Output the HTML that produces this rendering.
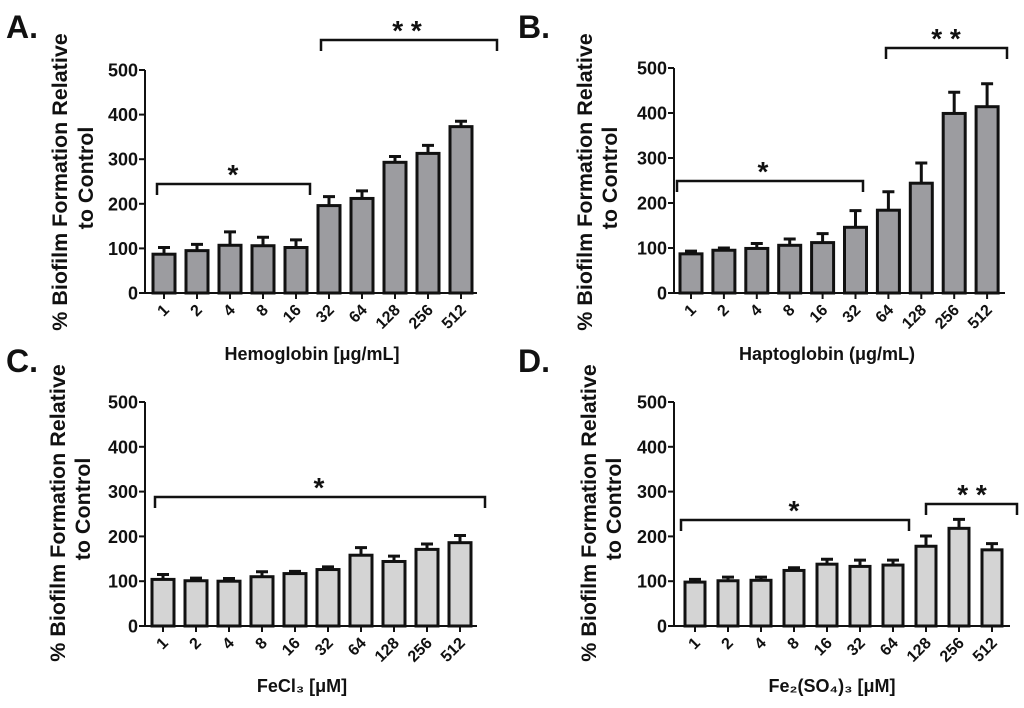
<!DOCTYPE html>
<html><head><meta charset="utf-8"><style>
body{margin:0;background:#fff;width:1024px;height:703px;overflow:hidden}
svg text{font-family:"Liberation Sans",Arial,sans-serif;font-weight:bold;fill:#111}
</style></head><body>
<svg id="fig" width="1024" height="703" viewBox="0 0 1024 703"></svg>
<script>
const categories=["1","2","4","8","16","32","64","128","256","512"];
const yTicks=[0,100,200,300,400,500];
const hemoValues=[87,95,107,106,102,196,212,293,313,373];
const hemoErrors=[15,14,30,19,17,20,17,13,18,12];
const haptoValues=[87,95,99,106,112,146,184,244,399,414];
const haptoErrors=[6,5,11,14,20,37,41,45,47,51];
const feclValues=[104,101,100,110,117,126,158,144,171,186];
const feclErrors=[11,6,6,11,5,6,17,12,12,16];
const fesoValues=[98,101,102,124,138,133,136,178,218,170];
const fesoErrors=[6,8,7,6,11,14,11,23,20,14];

const NS="http://www.w3.org/2000/svg";
const svg=document.getElementById('fig');
function mk(tag,attrs,parent){const e=document.createElementNS(NS,tag);for(const k in attrs)e.setAttribute(k,attrs[k]);(parent||svg).appendChild(e);return e;}

const panels=[
 {id:'a',letter:'A.',lx:6,ly:38,ax:145,y0:293,y500:70,x1:164,dx:33,xend:477,bw:22,fill:'#9c9ca0',vals:hemoValues,errs:hemoErrors,
  t1x:67,t2x:93,tcy:182,xt:'Hemoglobin [μg/mL]',xtx:312,xty:360,
  brackets:[{a:157,b:310,y:184,s:'*',sx:233,sy:184},{a:321,b:497,y:40,s:'* *',sx:407,sy:40}]},
 {id:'b',letter:'B.',lx:518,ly:38,ax:674,y0:293,y500:68,x1:691,dx:32.9,xend:1005,bw:22,fill:'#9c9ca0',vals:haptoValues,errs:haptoErrors,
  t1x:592,t2x:617,tcy:182,xt:'Haptoglobin (μg/mL)',xtx:827,xty:360,
  brackets:[{a:677,b:863,y:181,s:'*',sx:763,sy:181},{a:886,b:1007,y:48,s:'* *',sx:946,sy:48}]},
 {id:'c',letter:'C.',lx:6,ly:372,ax:145,y0:626,y500:402,x1:163,dx:33,xend:477,bw:22,fill:'#d4d4d4',vals:feclValues,errs:feclErrors,
  t1x:65,t2x:90,tcy:513,xt:'FeCl₃ [μM]',xtx:302,xty:692,
  brackets:[{a:155,b:485,y:497,s:'*',sx:319,sy:497}]},
 {id:'d',letter:'D.',lx:518,ly:372,ax:674,y0:626,y500:402,x1:695,dx:33,xend:1010,bw:20,fill:'#d4d4d4',vals:fesoValues,errs:fesoErrors,
  t1x:596,t2x:621,tcy:513,xt:'Fe₂(SO₄)₃ [μM]',xtx:832,xty:692,
  brackets:[{a:681,b:909,y:520,s:'*',sx:794,sy:520},{a:926,b:1017,y:504,s:'* *',sx:972,sy:504}]}
];

panels.forEach(p=>{
 const g=mk('g',{});
 
 
 const yS=v=>p.y0-(p.y0-p.y500)*v/500;
 const xS=i=>p.x1+i*p.dx;
 const L=mk('text',{x:p.lx,y:p.ly,'font-size':32},g);L.textContent=p.letter;
 
 
 const yt=mk('text',{transform:`translate(${p.t1x},${p.tcy}) rotate(-90)`,'text-anchor':'middle','font-size':21.5},g);
 yt.textContent='% Biofilm Formation Relative';
 
 
 const yt2=mk('text',{transform:`translate(${p.t2x},${p.tcy-4}) rotate(-90)`,'text-anchor':'middle','font-size':21.5},g);
 yt2.textContent='to Control';
 
 
 const ya=mk('line',{x1:p.ax,y1:yS(500),x2:p.ax,y2:p.y0,stroke:'#111','stroke-width':2},g);
 
 
 const xa=mk('line',{x1:p.ax-6,y1:p.y0,x2:p.xend,y2:p.y0,stroke:'#111','stroke-width':2},g);
 
 
 yTicks.forEach(t=>{
  mk('line',{x1:p.ax-6,y1:yS(t),x2:p.ax,y2:yS(t),stroke:'#111','stroke-width':2},g);
  const tl=mk('text',{x:p.ax-7,y:yS(t)+6.5,'text-anchor':'end','font-size':18},g);tl.textContent=t;
  
  
 });
 categories.forEach((c,i)=>{
  const x=xS(i);
  mk('line',{x1:x,y1:p.y0,x2:x,y2:p.y0+6,stroke:'#111','stroke-width':2},g);
  const tl=mk('text',{transform:`translate(${x+6},${p.y0+18}) rotate(-45)`,'text-anchor':'end','font-size':16},g);tl.textContent=c;
  
  
  const v=p.vals[i],e=p.errs[i];
  const eb=mk('path',{d:`M${x} ${yS(v)} V${yS(v+e)} M${x-6} ${yS(v+e)} H${x+6}`,stroke:'#111','stroke-width':3,fill:'none'},g);
  
  
  const r=mk('rect',{x:x-p.bw/2,y:yS(v),width:p.bw,height:p.y0-yS(v),fill:p.fill,stroke:'#111','stroke-width':3},g);
  
  
 });
 const xt=mk('text',{x:p.xtx,y:p.xty,'text-anchor':'middle','font-size':18},g);xt.textContent=p.xt;
 
 
 p.brackets.forEach(b=>{
  const bp=mk('path',{d:`M${b.a} ${b.y+11} V${b.y} H${b.b} V${b.y+11}`,stroke:'#111','stroke-width':2.5,fill:'none'},g);
  
  
  const st=mk('text',{x:b.sx,y:b.sy,'text-anchor':'middle','font-size':28,'font-weight':'normal'},g);st.textContent=b.s;
  
  
 });
});
</script>
</body></html>
